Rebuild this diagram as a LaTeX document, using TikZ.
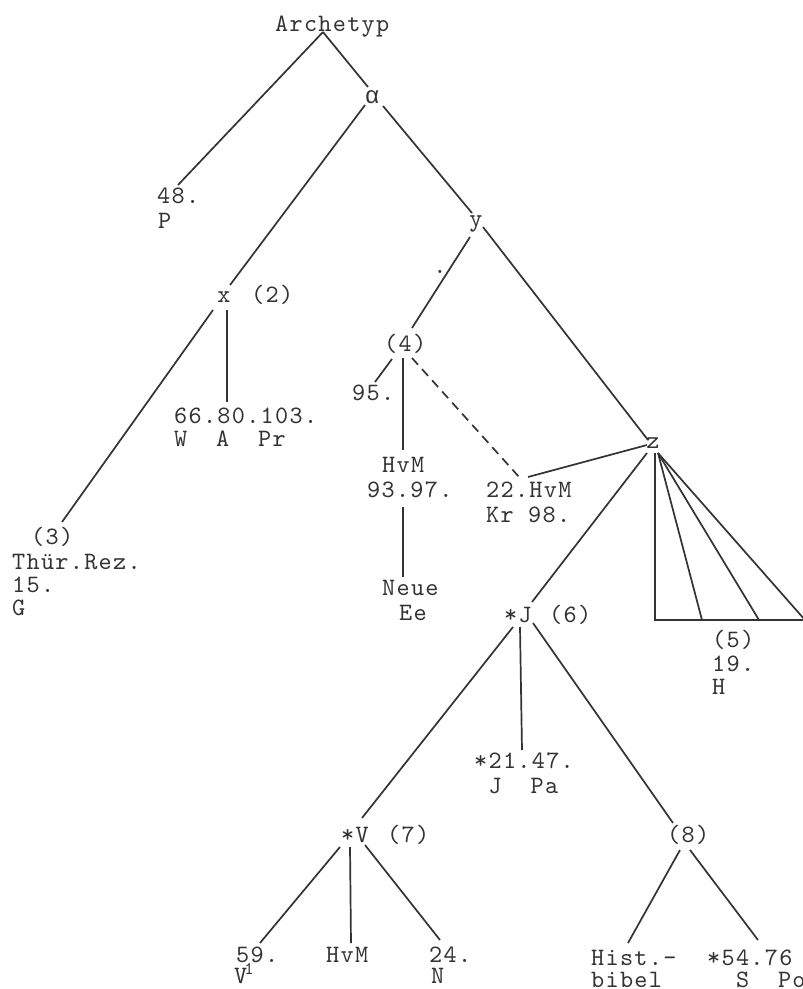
\documentclass[tikz,border=0pt]{standalone}
\usepackage{fontspec}
\newfontfamily\grk{Liberation Mono}
\newfontfamily\tw{lmmono10-regular.otf}[LetterSpace=5.2]
\definecolor{ink}{HTML}{333333}
\begin{document}
\begin{tikzpicture}[x=1pt,y=-1pt,
  lbl/.style={anchor=base west,inner sep=0pt,font=\tw\fontsize{25}{25}\selectfont,text=ink},
  clbl/.style={anchor=base,inner sep=0pt,font=\tw\fontsize{25}{25}\selectfont,text=ink},
  edge/.style={draw=ink,line width=1.7pt},
  dashedge/.style={edge,dash pattern=on 9pt off 6pt}]
\useasboundingbox[fill=white] (0,0) rectangle (803,989);
% labels
\node[lbl] (arch) at (275,31) {Archetyp};
\node[clbl] (alpha) at (372,103) {\grk\fontsize{24}{24}\selectfont α};
\node[lbl] (n48) at (157,203) {48.};
\node[lbl] (nP) at (158,228) {P};
\node[clbl] (nx) at (224,302) {x};
\node[lbl] (n2) at (251,302) {(2)};
\node[clbl] (ny) at (476,226) {y};
\node[clbl] (dot) at (440,273) {.};
\node[lbl] (n668) at (174,423) {66.80.103.};
\node[lbl] (wapr) at (174,446) {W~~A~~Pr};
\node[lbl] (n4) at (384,351) {(4)};
\node[lbl] (n95) at (352,400) {95.};
\node[lbl] (hvma) at (382,472) {HvM};
\node[lbl] (n9397) at (367,497) {93.97.};
\node[lbl] (n22) at (486,497) {22.HvM};
\node[lbl] (kr) at (486,522) {Kr~98.};
\node[clbl] (nz) at (653,448) {z};
\node[lbl] (neue) at (382,595) {Neue};
\node[lbl] (ee) at (399,620) {Ee};
\node[lbl] (n3) at (31,544) {(3)};
\node[lbl] (thur) at (12,569) {Thür.Rez.};
\node[lbl] (n15) at (12,592) {15.};
\node[lbl] (nG) at (12,615) {G};
\node[lbl] (nJ) at (504,622) {*J};
\node[lbl] (n6) at (549,622) {(6)};
\node[lbl] (n5) at (712,647) {(5)};
\node[lbl] (n19) at (712,671) {19.};
\node[lbl] (nH) at (712,694) {H};
\node[lbl] (n2147) at (474,768) {*21.47.};
\node[lbl] (jpa) at (474,793) {~J~~Pa};
\node[lbl] (nV) at (341,842) {*V};
\node[lbl] (n7) at (387,842) {(7)};
\node[lbl] (n8) at (667,842) {(8)};
\node[lbl] (n59) at (236,962) {59.};
\node[lbl] (nVa) at (234,983) {V\kern-3pt\raisebox{9pt}{\fontsize{18}{18}\selectfont 1}};
\node[lbl] (hvmb) at (326,962) {HvM};
\node[lbl] (n24) at (429,962) {24.};
\node[lbl] (nN) at (431,983) {N};
\node[lbl] (hist) at (591,965) {Hist.-};
\node[lbl] (bibel) at (591,987) {bibel};
\node[lbl] (n5476) at (707,965) {*54.76};
\node[lbl] (spo) at (707,987) {~~S~~Po};
% connector end points
\coordinate (archS) at (323,32);
\coordinate (p48) at (178,185);
\coordinate (alN) at (368,87);
\coordinate (alSW) at (365,105);
\coordinate (alSE) at (383,106);
\coordinate (xN) at (230,285);
\coordinate (yN) at (472,213);
\coordinate (ySW) at (470,237);
\coordinate (yE) at (483,227);
\coordinate (fourN) at (412,328);
\coordinate (zN) at (648,440);
\coordinate (xSW) at (213,310);
\coordinate (xS) at (227,310);
\coordinate (threeN) at (62,522);
\coordinate (w66) at (227,402);
\coordinate (fourSW) at (392,359);
\coordinate (p95) at (375,382);
\coordinate (fourS) at (403,358);
\coordinate (hvmN) at (403,450);
\coordinate (fourSE) at (412,358);
\coordinate (p22N) at (520,478);
\coordinate (hvmS) at (403,507);
\coordinate (neueN) at (403,577);
\coordinate (zW) at (647,445);
\coordinate (p22E) at (528,477);
\coordinate (zSW) at (647,453);
\coordinate (jN) at (532,602);
\coordinate (zS) at (655,453);
\coordinate (zA) at (658,453);
\coordinate (f1) at (655,620);
\coordinate (f2) at (702,620);
\coordinate (f3) at (759,620);
\coordinate (f4) at (805,620);
\coordinate (jSW) at (513,627);
\coordinate (vN) at (362,818);
\coordinate (jS) at (520,627);
\coordinate (p21N) at (522,750);
\coordinate (jSE) at (533,623);
\coordinate (eightN) at (673,823);
\coordinate (vSW) at (340,847);
\coordinate (p59) at (260,943);
\coordinate (vS) at (350,847);
\coordinate (hvmbN) at (351,943);
\coordinate (vSE) at (365,845);
\coordinate (p24) at (440,940);
\coordinate (eSW) at (680,850);
\coordinate (histN) at (628,943);
\coordinate (eSE) at (690,850);
\coordinate (p54) at (758,940);
% connectors
\draw[edge] (archS) -- (p48);
\draw[edge] (archS) -- (alN);
\draw[edge] (alSW) -- (xN);
\draw[edge] (alSE) -- (yN);
\draw[edge] (ySW) -- (fourN);
\draw[edge] (yE) -- (zN);
\draw[edge] (xSW) -- (threeN);
\draw[edge] (xS) -- (w66);
\draw[edge] (fourSW) -- (p95);
\draw[edge] (fourS) -- (hvmN);
\draw[dashedge] (fourSE) -- (p22N);
\draw[edge] (hvmS) -- (neueN);
\draw[edge] (zW) -- (p22E);
\draw[edge] (zSW) -- (jN);
\draw[edge] (zS) -- (f1) -- (f4);
\draw[edge] (zA) -- (f2);
\draw[edge] (zA) -- (f3);
\draw[edge] (zA) -- (f4);
\draw[edge] (jSW) -- (vN);
\draw[edge] (jS) -- (p21N);
\draw[edge] (jSE) -- (eightN);
\draw[edge] (vSW) -- (p59);
\draw[edge] (vS) -- (hvmbN);
\draw[edge] (vSE) -- (p24);
\draw[edge] (eSW) -- (histN);
\draw[edge] (eSE) -- (p54);
\end{tikzpicture}
\end{document}
